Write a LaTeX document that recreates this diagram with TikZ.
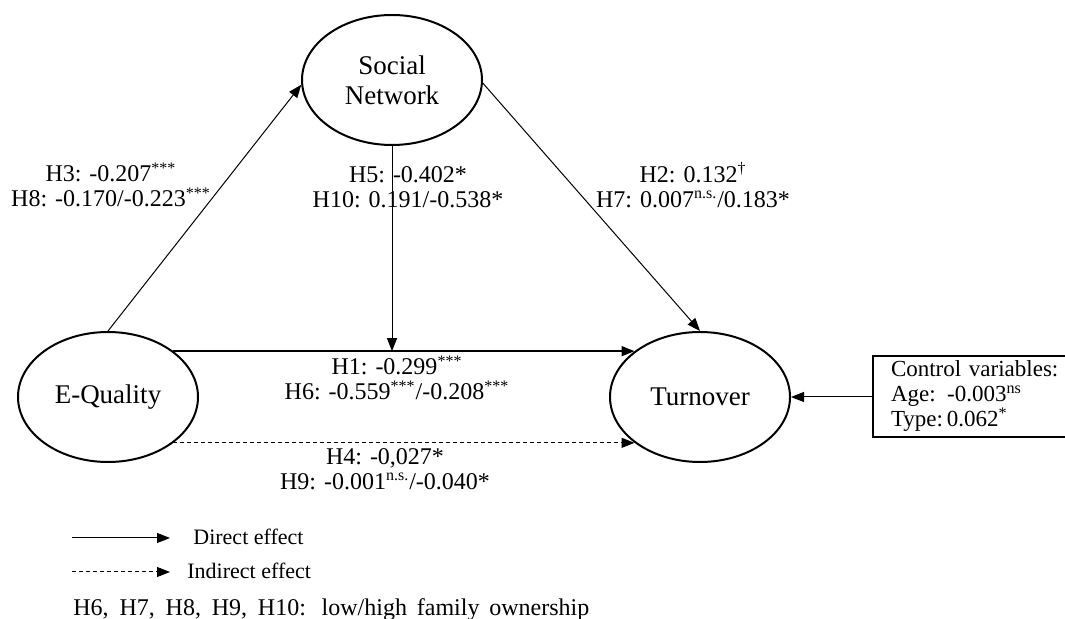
\documentclass[tikz,border=0pt]{standalone}
\usepackage{fontspec}
\setmainfont{Liberation Serif}
\usetikzlibrary{arrows.meta,shapes.geometric}
\begin{document}
\begin{tikzpicture}[x=0.5pt,y=-0.5pt,
  latent/.style={ellipse,draw,line width=1pt,minimum width=90pt,minimum height=65pt,inner sep=0pt,align=center,font=\fontsize{13.5}{15}\selectfont},
  lbl/.style={align=center,inner sep=0pt,font=\fontsize{12}{12.5}\selectfont},
  legendtxt/.style={inner sep=0pt,font=\fontsize{11}{13}\selectfont},
  conn/.style={line width=0.5pt,-{Triangle[length=6.5pt,width=5pt]}},
  ctrl/.style={draw,line width=1pt,minimum height=40.5pt,text width=95pt,inner xsep=9pt,inner ysep=0pt,align=left,font=\fontsize{11.5}{12.5}\selectfont},
  dashline/.style={dash pattern=on 2pt off 1.5pt}
]
\useasboundingbox (0,0) rectangle (1065,619);

\node[latent] (sn) at (392,80) {Social\\Network};
\node[latent] (eq) at (108,397) {E-Quality};
\node[latent] (to) at (700,397) {Turnover};

\node[ctrl,anchor=north west] (cv) at (872,355) {Control variables:\\Age: -0.003\textsuperscript{ns}\\Type:\,0.062\textsuperscript{*}};

\draw[conn] (eq.north) -- (sn.183);
\draw[conn] (sn.358) -- (to.north);
\draw[conn] (sn.south) -- (sn.south |- eq.35);
\draw[conn,line width=0.7pt] (eq.35) -- (to.145);
\draw[conn,dashline] (eq.-35) -- (to.-145);
\draw[conn] (cv.west |- to.east) -- (to.east);

\node[lbl] (l3) at (111,185) {H3: -0.207\textsuperscript{***}\\H8: -0.170/-0.223\textsuperscript{***}};
\node[lbl] (l5) at (408,187) {H5: -0.402*\\H10: 0.191/-0.538*};
\node[lbl] (l2) at (693,185) {H2: 0.132\textsuperscript{†}\\H7: 0.007\textsuperscript{n.s.}/0.183*};
\node[lbl] (l1) at (397,378) {H1: -0.299\textsuperscript{***}\\H6: -0.559\textsuperscript{***}/-0.208\textsuperscript{***}};
\node[lbl] (l4) at (385,469) {H4: -0,027*\\H9: -0.001\textsuperscript{n.s.}/-0.040*};

\coordinate (ds) at (72,538);
\coordinate (de) at (170,538);
\draw[conn] (ds) -- (de);
\node[legendtxt,anchor=base west] (dl) at (193,545) {Direct effect};
\coordinate (is) at (72,572);
\coordinate (ie) at (170,572);
\draw[conn,dashline] (is) -- (ie);
\node[legendtxt,anchor=base west] (il) at (187,578) {Indirect effect};
\node[legendtxt,anchor=base west,font=\fontsize{12}{13}\selectfont] (fn) at (73,615) {\makebox[258pt][s]{H6, H7, H8, H9, H10: low/high family ownership}};
\end{tikzpicture}
\end{document}
